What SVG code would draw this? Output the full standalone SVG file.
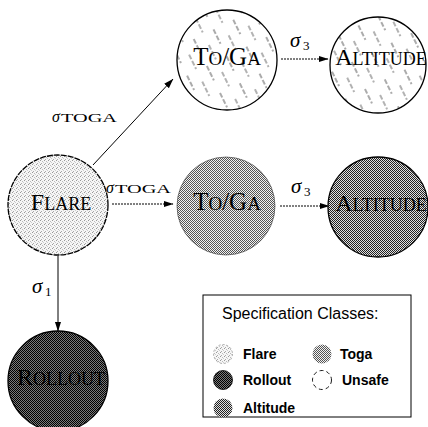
<svg xmlns="http://www.w3.org/2000/svg" width="428" height="427" viewBox="0 0 428 427">
<style>
.nl{font-family:"Liberation Serif","Times New Roman",serif;fill:#000}
.el{font-family:"Liberation Serif","Times New Roman",serif;fill:#000}
.sg{font-family:"Liberation Serif","Times New Roman",serif;font-style:italic;fill:#000}
.lg{font-family:"Liberation Sans",Arial,sans-serif;fill:#000}
.lgb{font-family:"Liberation Sans",Arial,sans-serif;font-weight:bold;font-size:14px;fill:#000}
.node{stroke:#000;stroke-width:1.3}
.edge{stroke:#000;stroke-width:1;fill:none}
.dot{stroke-dasharray:2 1}
</style>
<defs>
<pattern id="pFlare" width="4" height="4" patternUnits="userSpaceOnUse">
<rect width="4" height="4" fill="#f6f6f6"/>
<rect x="0" y="0" width="1" height="1" fill="#999"/>
<rect x="2" y="1" width="1" height="1" fill="#bbb"/>
<rect x="1" y="3" width="1" height="1" fill="#aaa"/>
<rect x="3" y="2" width="1" height="1" fill="#ccc"/>
</pattern>
<pattern id="pToga" width="2" height="2" patternUnits="userSpaceOnUse">
<rect width="2" height="2" fill="#f2f2f2"/>
<rect width="1" height="1" fill="#555"/>
<rect x="1" y="1" width="1" height="1" fill="#555"/>
</pattern>
<pattern id="pAlt" width="2" height="2" patternUnits="userSpaceOnUse">
<rect width="2" height="2" fill="#e0e0e0"/>
<rect width="1" height="1" fill="#222"/>
<rect x="1" y="1" width="1" height="1" fill="#222"/>
</pattern>
<pattern id="pRoll" width="2" height="2" patternUnits="userSpaceOnUse">
<rect width="2" height="2" fill="#7a7a7a"/>
<rect width="1" height="1" fill="#000"/>
<rect x="1" y="1" width="1" height="1" fill="#000"/>
</pattern>
<pattern id="pUnsafe" width="22" height="30" patternUnits="userSpaceOnUse" patternTransform="rotate(-26)">
<rect width="22" height="30" fill="#fff"/>
<line x1="3" y1="0" x2="3" y2="16" stroke="#444" stroke-width="0.9" stroke-dasharray="5 2"/>
<line x1="14" y1="12" x2="14" y2="28" stroke="#555" stroke-width="0.9" stroke-dasharray="5 2"/>
</pattern>
<marker id="ah" markerWidth="10" markerHeight="8" refX="9.5" refY="4" orient="auto" markerUnits="userSpaceOnUse">
<path d="M0,0.8 L10,4 L0,7.2 z" fill="#000"/>
</marker>
</defs>
<rect width="428" height="427" fill="#fff"/>

<g id="edges">
<line class="edge" x1="93" y1="165" x2="173" y2="79" marker-end="url(#ah)"/>
<line class="edge dot" x1="112" y1="204" x2="173" y2="204" marker-end="url(#ah)"/>
<line class="edge dot" x1="281" y1="59" x2="328" y2="59" marker-end="url(#ah)"/>
<line class="edge dot" x1="280" y1="206" x2="329" y2="206" marker-end="url(#ah)"/>
<line class="edge" x1="58" y1="256" x2="58" y2="331" marker-end="url(#ah)"/>
<text class="sg" x="52" y="122" font-size="16">σ</text>
<text class="el" x="61" y="122" font-size="12" textLength="56" lengthAdjust="spacingAndGlyphs">TOGA</text>
<text class="sg" x="106" y="193" font-size="16">σ</text>
<text class="el" x="115" y="193" font-size="12" textLength="56" lengthAdjust="spacingAndGlyphs">TOGA</text>
<text class="sg" x="290" y="47" font-size="21">σ</text>
<text class="el" x="303" y="50" font-size="13">3</text>
<text class="sg" x="291" y="193" font-size="21">σ</text>
<text class="el" x="304" y="196" font-size="13">3</text>
<text class="sg" x="32" y="293" font-size="21">σ</text>
<text class="el" x="45" y="296" font-size="13">1</text>
</g>

<g id="toga_top">
<circle class="node" cx="227" cy="60" r="50" fill="url(#pUnsafe)"/>
<text class="nl" x="227" y="65" text-anchor="middle"><tspan font-size="25">T</tspan><tspan font-size="19">O</tspan><tspan font-size="25">/G</tspan><tspan font-size="19">A</tspan></text>
</g>
<g id="altitude_top">
<circle class="node" cx="378" cy="65" r="48" fill="url(#pUnsafe)"/>
<text class="nl" x="381" y="65" text-anchor="middle"><tspan font-size="24">A</tspan><tspan font-size="18">LTITUDE</tspan></text>
</g>
<g id="flare">
<circle class="node" cx="58" cy="205" r="50" fill="url(#pFlare)" stroke-dasharray="6 1"/>
<text class="nl" x="61" y="210" text-anchor="middle"><tspan font-size="24">F</tspan><tspan font-size="18">LARE</tspan></text>
</g>
<g id="toga_mid">
<circle cx="226" cy="206" r="49" fill="url(#pToga)" stroke="#333" stroke-width="0.6"/>
<text class="nl" x="227" y="210" text-anchor="middle"><tspan font-size="25">T</tspan><tspan font-size="19">O</tspan><tspan font-size="25">/G</tspan><tspan font-size="19">A</tspan></text>
</g>
<g id="altitude_mid">
<circle class="node" cx="378" cy="207" r="50" fill="url(#pAlt)"/>
<text class="nl" x="381" y="211" text-anchor="middle"><tspan font-size="24">A</tspan><tspan font-size="18">LTITUDE</tspan></text>
</g>
<g id="rollout">
<circle class="node" cx="58" cy="381" r="50" fill="url(#pRoll)"/>
<text class="nl" x="61" y="385" text-anchor="middle" fill="#111"><tspan font-size="24">R</tspan><tspan font-size="18">OLLOUT</tspan></text>
</g>

<g id="legend">
<rect x="203" y="295" width="208" height="122" fill="#fff" stroke="#000" stroke-width="1"/>
<text class="lg" x="222" y="319" font-size="16">Specification Classes:</text>
<circle cx="223" cy="354" r="9.5" fill="url(#pFlare)" stroke="#999" stroke-width="0.8" stroke-dasharray="2 2"/>
<text class="lgb" x="243" y="359">Flare</text>
<circle cx="322" cy="354" r="9.5" fill="url(#pToga)"/>
<text class="lgb" x="340" y="359">Toga</text>
<circle cx="223" cy="380" r="9.5" fill="url(#pRoll)" stroke="#000" stroke-width="0.8"/>
<text class="lgb" x="243" y="385">Rollout</text>
<circle cx="322" cy="380" r="9.5" fill="#fff" stroke="#000" stroke-width="0.9" stroke-dasharray="4 3"/>
<text class="lgb" x="342" y="385">Unsafe</text>
<circle cx="223" cy="408" r="9.5" fill="url(#pAlt)"/>
<text class="lgb" x="243" y="413">Altitude</text>
</g>
</svg>
